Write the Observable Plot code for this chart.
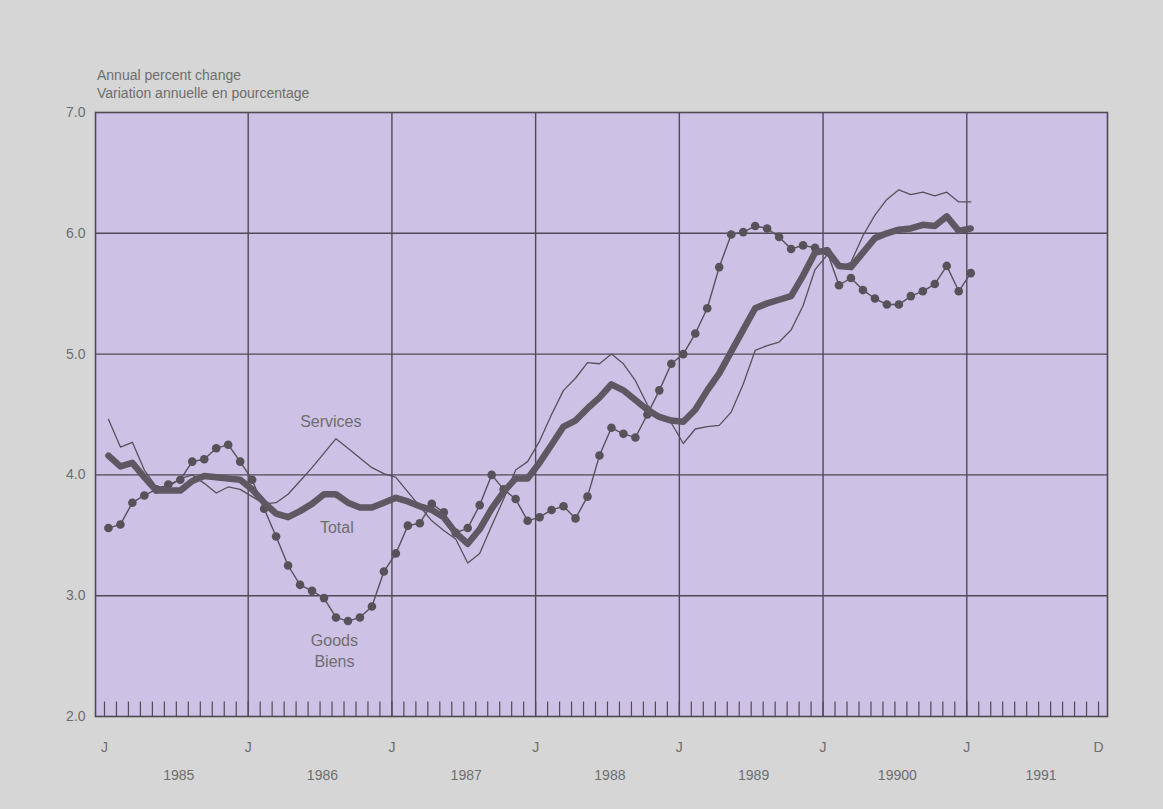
<!DOCTYPE html>
<html>
<head>
<meta charset="utf-8">
<script src="https://cdn.jsdelivr.net/npm/d3@7"></script>
<script src="https://cdn.jsdelivr.net/npm/@observablehq/plot@0.6"></script>
<style>
  html, body { margin: 0; padding: 0; background: #d5d6d5; }
  body { width: 1163px; height: 809px; overflow: hidden; position: relative; font-family: "Liberation Sans", Arial, sans-serif; }
  #title { position: absolute; left: 97px; top: 66px; color: #6e6e6e; font-size: 14px; line-height: 18px; z-index: 2; }
  #chart { position: absolute; left: 0; top: 0; }
</style>
</head>
<body>
<div id="title">Annual percent change<br>Variation annuelle en pourcentage</div>
<div id="chart"></div>
<script>
// Monthly values, January 1985 to January 1991
const goods = [3.56,3.59,3.77,3.83,3.88,3.92,3.96,4.11,4.13,4.22,4.25,4.11,
  3.96,3.72,3.49,3.25,3.09,3.04,2.98,2.82,2.79,2.82,2.91,3.20,
  3.35,3.58,3.60,3.76,3.69,3.52,3.56,3.75,4.00,3.88,3.80,3.62,
  3.65,3.71,3.74,3.64,3.82,4.16,4.39,4.34,4.31,4.50,4.70,4.92,
  5.00,5.17,5.38,5.72,5.99,6.01,6.06,6.04,5.97,5.87,5.90,5.88,
  5.85,5.57,5.63,5.53,5.46,5.41,5.41,5.48,5.52,5.58,5.73,5.52,
  5.67];
const services = [4.46,4.23,4.27,4.04,3.90,3.90,3.97,4.00,3.93,3.85,3.90,3.88,
  3.82,3.76,3.77,3.84,3.95,4.06,4.18,4.30,4.22,4.14,4.06,4.01,
  3.98,3.86,3.74,3.62,3.54,3.47,3.27,3.35,3.58,3.80,4.04,4.11,
  4.28,4.50,4.70,4.80,4.93,4.92,5.00,4.92,4.78,4.58,4.48,4.43,
  4.26,4.38,4.40,4.41,4.52,4.75,5.03,5.07,5.10,5.20,5.40,5.70,
  5.82,5.72,5.76,5.98,6.15,6.28,6.36,6.32,6.34,6.31,6.34,6.26,
  6.26];
const total = [4.16,4.07,4.10,3.98,3.87,3.87,3.87,3.95,3.99,3.98,3.97,3.96,
  3.88,3.77,3.68,3.65,3.70,3.76,3.84,3.84,3.77,3.73,3.73,3.77,
  3.81,3.78,3.74,3.71,3.65,3.52,3.43,3.55,3.72,3.86,3.97,3.97,
  4.10,4.25,4.40,4.45,4.55,4.64,4.75,4.70,4.62,4.54,4.48,4.45,
  4.44,4.54,4.70,4.84,5.02,5.20,5.38,5.42,5.45,5.48,5.65,5.84,
  5.86,5.73,5.72,5.84,5.96,6.00,6.03,6.04,6.07,6.06,6.14,6.02,
  6.04];
const yearLabels = ["1985","1986","1987","1988","1989","19900","1991"];
const yTicks = [2,3,4,5,6,7];

const months = d3.range(84);              // Jan 1985 .. Dec 1991
const janMonths = months.filter(m => m % 12 === 0);
const off = 0.33;                          // data plotted mid-month
const toRows = arr => arr.map((v, i) => ({m: i + off, v}));

const ink = "#4f4b55";
const textCol = "#6e6e6e";

const chart = Plot.plot({
  width: 1163,
  height: 809,
  marginLeft: 95,
  marginRight: 56,
  marginTop: 112,
  marginBottom: 93,
  style: {background: "transparent", fontFamily: "'Liberation Sans', Arial, sans-serif"},
  x: {domain: [-0.75, 83.75], axis: null},
  y: {domain: [2, 7], axis: null},
  marks: [
    Plot.frame({fill: "#cdc1e5", stroke: null}),
    Plot.ruleY([3,4,5,6], {stroke: ink, strokeWidth: 1.4}),
    Plot.ruleX(janMonths.filter(m => m > 0), {stroke: ink, strokeWidth: 1.4}),
    Plot.ruleX(months, {y1: 2, y2: 2.12, stroke: ink, strokeWidth: 1.2}),
    Plot.frame({stroke: ink, strokeWidth: 1.6}),
    // y tick labels
    Plot.text(yTicks, {x: -0.75, y: d => d, text: d => d.toFixed(1), textAnchor: "end", dx: -10, fontSize: 14, fill: textCol}),
    // month letters
    Plot.text(janMonths, {x: d => d, y: 2, text: () => "J", dy: 31, fontSize: 14, fill: textCol}),
    Plot.text([83], {x: d => d, y: 2, text: () => "D", dy: 31, fontSize: 14, fill: textCol}),
    Plot.text(yearLabels, {x: (d, i) => 6.2 + 12 * i, y: 2, text: d => d, dy: 59, fontSize: 14, fill: textCol}),
    // series
    Plot.line(toRows(services), {x: "m", y: "v", stroke: "#55525a", strokeWidth: 1.3}),
    Plot.line(toRows(goods), {x: "m", y: "v", stroke: "#55525a", strokeWidth: 1.4}),
    Plot.dot(toRows(goods), {x: "m", y: "v", r: 4.3, fill: "#55525a", stroke: null}),
    Plot.line(toRows(total), {x: "m", y: "v", stroke: "#5e5863", strokeWidth: 6.5, strokeLinejoin: "round", strokeLinecap: "round"}),
    // series labels
    Plot.text([{t: "Services", x: 18.9, y: 4.44}, {t: "Total", x: 19.4, y: 3.56},
               {t: "Goods", x: 19.2, y: 2.63}, {t: "Biens", x: 19.2, y: 2.45}],
      {x: "x", y: "y", text: "t", fontSize: 16, fill: textCol})
  ]
});
document.getElementById("chart").append(chart);
</script>
</body>
</html>
